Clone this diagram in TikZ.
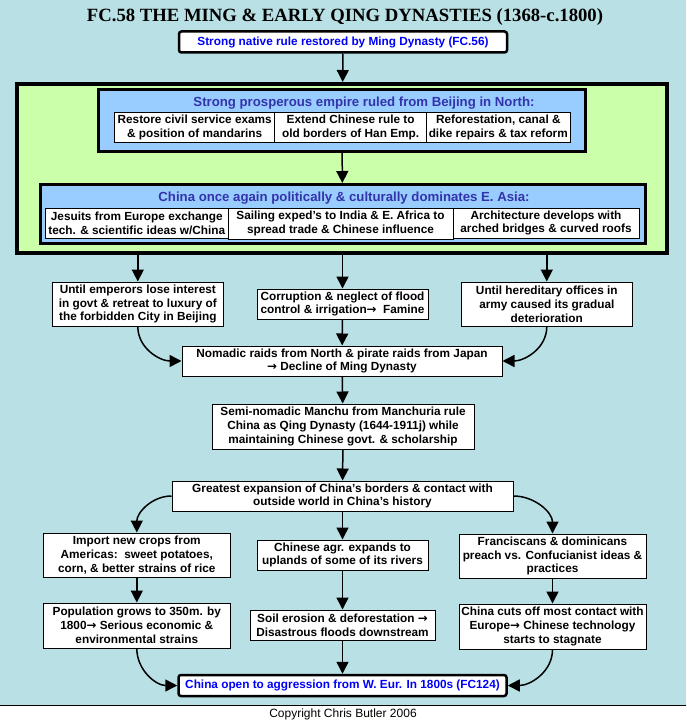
\documentclass[tikz,border=0pt]{standalone}
\usepackage{fontspec}
\setmainfont{Liberation Serif}
\setsansfont{Liberation Sans}
\newfontfamily\arrowfont{DejaVu Sans}
\usetikzlibrary{arrows.meta}

\definecolor{bgblue}{RGB}{185,224,228}
\definecolor{lightgreen}{RGB}{204,255,170}
\definecolor{boxblue}{RGB}{153,204,255}
\definecolor{headblue}{RGB}{51,51,170}
\definecolor{linkblue}{RGB}{0,0,250}

\newcommand{\ra}{{\arrowfont\bfseries →}}

\tikzset{
    boxfont/.style={font=\sffamily\bfseries\fontsize{11.8}{13.8}\selectfont},
    box/.style={draw, fill=white, line width=1pt, inner sep=0pt, align=center, boxfont},
    cell/.style={box, minimum height=30pt},
    endbox/.style={box, line width=2.5pt, rounded corners=2.5pt, text=linkblue, minimum width=328pt, minimum height=21pt},
    heading/.style={text=headblue, font=\sffamily\bfseries\fontsize{13.2}{15}\selectfont},
    arr/.style={-{Triangle[length=12pt,width=12pt]}, line width=1.5pt}
}

\begin{document}
\begin{tikzpicture}[x=1pt, y=-1pt]
    \useasboundingbox (0,0) rectangle (686,722);
    \fill[bgblue] (0,0) rectangle (686,705);
    \fill[white] (0,705) rectangle (686,722);
    \draw[line width=1pt] (0,705) -- (686,705);

    % title and start
    \node (title) at (345,17) {\rmfamily\bfseries\fontsize{18.7}{22}\selectfont FC.58 THE MING \& EARLY QING DYNASTIES (1368-c.1800)};
    \node[endbox] (start) at (343,42) {Strong native rule restored by Ming Dynasty (FC.56)};

    % ming empire
    \node[draw, fill=lightgreen, line width=4pt, minimum width=650pt, minimum height=169pt] (ming) at (342,168.5) {};
    \node[draw, fill=boxblue, line width=3pt, minimum width=487pt, minimum height=62pt] (rule) at (342,120.5) {};
    \node[heading] (rulehead) at (364,103) {Strong prosperous empire ruled from Beijing in North:};
    \node[cell, minimum width=160pt] (exams) at (194.7,127.3) {Restore civil service exams\\\& position of mandarins};
    \node[cell, minimum width=151.8pt] (borders) at (350.6,127.3) {Extend Chinese rule to\\old borders of Han Emp.};
    \node[cell, minimum width=143.5pt] (reform) at (498.3,127.3) {Reforestation, canal \&\\dike repairs \& tax reform};

    \node[draw, fill=boxblue, line width=3pt, minimum width=605pt, minimum height=59pt] (asia) at (342.5,214) {};
    \node[heading] (asiahead) at (344,198) {China once again politically \& culturally dominates E. Asia:};
    \node[cell, minimum width=182.5pt] (jesuits) at (136.8,223) {Jesuits from Europe exchange\\tech. \& scientific ideas w/China};
    \node[cell, minimum width=225pt, minimum height=31pt] (sailing) at (340.5,223.5) {Sailing exped's to India \& E. Africa to\\spread trade \& Chinese influence};
    \node[cell, minimum width=186pt] (archi) at (546,223) {Architecture develops with\\arched bridges \& curved roofs};

    % decline
    \node[box, minimum width=170.5pt, minimum height=44pt] (emperors) at (137.8,304) {Until emperors lose interest\\in govt \& retreat to luxury of\\the forbidden City in Beijing};
    \node[box, minimum width=171pt, minimum height=30pt] (famine) at (342.5,304) {Corruption \& neglect of flood\\control \& irrigation\ra\ \ Famine};
    \node[box, minimum width=170.5pt, minimum height=44pt] (army) at (546.8,304) {Until hereditary offices in\\army caused its gradual\\deterioration};
    \node[box, minimum width=320pt, minimum height=30pt] (raids) at (342,361) {Nomadic raids from North \& pirate raids from Japan\\\ra\ Decline of Ming Dynasty};
    \node[box, minimum width=262pt, minimum height=45pt] (manchu) at (343,426.5) {Semi-nomadic Manchu from Manchuria rule\\China as Qing Dynasty (1644-1911j) while\\maintaining Chinese govt. \& scholarship};

    % qing
    \node[box, minimum width=341pt, minimum height=30pt] (expansion) at (342.5,496) {Greatest expansion of China's borders \& contact with\\outside world in China's history};
    \node[box, minimum width=187.5pt, minimum height=44pt] (crops) at (136.8,555) {Import new crops from\\Americas:\ \ sweet potatoes,\\corn, \& better strains of rice};
    \node[box, minimum width=171pt, minimum height=30pt] (uplands) at (342.5,555) {Chinese agr. expands to\\uplands of some of its rivers};
    \node[box, minimum width=187pt, minimum height=44pt] (friars) at (552.5,556) {Franciscans \& dominicans\\preach vs. Confucianist ideas \&\\practices};
    \node[box, minimum width=187.5pt, minimum height=45pt] (population) at (136.8,625.5) {Population grows to 350m. by\\1800\ra\ Serious economic \&\\environmental strains};
    \node[box, minimum width=185pt, minimum height=30pt] (erosion) at (342.5,625) {Soil erosion \& deforestation \ra\\Disastrous floods downstream};
    \node[box, minimum width=187pt, minimum height=45pt] (stagnate) at (552.5,626.5) {China cuts off most contact with\\Europe\ra\ Chinese technology\\starts to stagnate};
    \node[endbox] (aggression) at (342.5,685.5) {China open to aggression from W. Eur. In 1800s (FC124)};

    \node (copyright) at (343,714) {\sffamily\fontsize{12}{13}\selectfont Copyright Chris Butler 2006};

    % connectors
    \draw[arr] (start) -- (ming);
    \draw[arr] (rule) -- (asia);
    \draw[arr] (ming.south -| emperors.north) -- (emperors);
    \draw[arr] (ming.south -| famine.north) -- (famine);
    \draw[arr] (ming.south -| army.north) -- (army);
    \draw[arr] (emperors.south) to[out=-90, in=180] (raids.west);
    \draw[arr] (army.south) to[out=-90, in=0] (raids.east);
    \draw[arr] (famine) -- (raids);
    \draw[arr] (raids) -- (manchu);
    \draw[arr] (manchu) -- (expansion);
    \draw[arr] (expansion.west) to[out=180, in=90] (crops.north);
    \draw[arr] (expansion) -- (uplands);
    \draw[arr] (expansion.east) to[out=0, in=90] (friars.north);
    \draw[arr] (crops) -- (population);
    \draw[arr] (uplands) -- (erosion);
    \draw[arr] (friars) -- (stagnate);
    \draw[arr] (population.south) to[out=-90, in=180] (aggression.west);
    \draw[arr] (stagnate.south) to[out=-90, in=0] (aggression.east);
    \draw[arr] (erosion) -- (aggression);
\end{tikzpicture}
\end{document}
